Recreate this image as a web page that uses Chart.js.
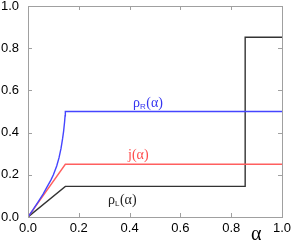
<!DOCTYPE html>
<html>
<head>
<meta charset="utf-8">
<script src="https://cdn.jsdelivr.net/npm/chart.js@4.4.0/dist/chart.umd.min.js"></script>
<style>
  html, body { margin: 0; padding: 0; background: #fff; }
  #wrap { width: 291px; height: 252px; }
</style>
</head>
<body>
<div id="wrap"><canvas id="myChart"></canvas></div>
<script>
// tick values
var xTicks = [0, 0.2, 0.4, 0.6, 0.8, 1.0];
var yTicks = [0, 0.2, 0.4, 0.6, 0.8, 1.0];

// rho_R(alpha), blue
var rhoRx = [0, 0.02, 0.04, 0.06, 0.074, 0.09, 0.1, 0.113, 0.122, 0.13, 0.136, 0.14, 0.144, 0.146, 0.147, 1.0];
var rhoRy = [0, 0.035, 0.072, 0.11, 0.14, 0.175, 0.2, 0.242, 0.28, 0.325, 0.37, 0.405, 0.45, 0.48, 0.5, 0.5];

// j(alpha), red
var jx = [0, 0.147, 1.0];
var jy = [0, 0.25, 0.25];

// rho_L(alpha), black
var rhoLx = [0, 0.147, 0.855, 0.855, 1.0];
var rhoLy = [0, 0.145, 0.145, 0.852, 0.852];

function pts(xs, ys) {
    return xs.map(function (x, i) { return {x: x, y: ys[i]}; });
}

// frame, inward ticks on all four sides + curve labels
var decor = {
    id: 'decor',
    afterDraw: function (chart) {
        var ctx = chart.ctx;
        var a = chart.chartArea;
        var sx = chart.scales.x, sy = chart.scales.y;
        ctx.save();
        ctx.strokeStyle = '#a0a0a0';
        ctx.lineWidth = 1;
        ctx.strokeRect(Math.round(a.left) + 0.5, Math.round(a.top) + 0.5,
            Math.round(a.right - a.left), Math.round(a.bottom - a.top));
        ctx.beginPath();
        xTicks.forEach(function (v) {
            var px = Math.round(sx.getPixelForValue(v)) + 0.5;
            ctx.moveTo(px, a.bottom); ctx.lineTo(px, a.bottom - 4);
            ctx.moveTo(px, a.top); ctx.lineTo(px, a.top + 4);
        });
        yTicks.forEach(function (v) {
            var py = Math.round(sy.getPixelForValue(v)) + 0.5;
            ctx.moveTo(a.left, py); ctx.lineTo(a.left + 4, py);
            ctx.moveTo(a.right, py); ctx.lineTo(a.right - 4, py);
        });
        ctx.stroke();

        // labels
        ctx.textBaseline = 'alphabetic';
        function label(x, y, main, sub, color) {
            ctx.fillStyle = color;
            ctx.font = '14px "Liberation Serif"';
            ctx.fillText(main, x, y);
            var w = ctx.measureText(main).width;
            ctx.font = '8px "Liberation Sans"';
            ctx.fillText(sub, x + w, y + 2);
            var w2 = ctx.measureText(sub).width;
            ctx.font = '14px "Liberation Serif"';
            ctx.fillText('(\u03b1)', x + w + w2 + 0.5, y);
        }
        label(133, 107, '\u03c1', 'R', '#3535f0');
        ctx.fillStyle = '#ff4d4d';
        ctx.font = '14px "Liberation Serif"';
        ctx.fillText('j(\u03b1)', 128, 159);
        label(108, 204, '\u03c1', 'L', '#222');

        ctx.fillStyle = '#000';
        ctx.font = '20px "Liberation Serif"';
        ctx.fillText('\u03b1', 251, 240);
        ctx.restore();
    }
};

var ctx = document.getElementById('myChart').getContext('2d');
var chart = new Chart(ctx, {
    type: 'scatter',
    data: {
        datasets: [
            {data: pts(rhoRx, rhoRy), showLine: true, borderColor: '#4545ff', borderWidth: 1.4, pointRadius: 0, tension: 0},
            {data: pts(jx, jy), showLine: true, borderColor: '#ff5f5f', borderWidth: 1.4, pointRadius: 0},
            {data: pts(rhoLx, rhoLy), showLine: true, borderColor: '#333', borderWidth: 1.4, pointRadius: 0}
        ]
    },
    plugins: [decor],
    options: {
        responsive: true,
        maintainAspectRatio: false,
        animation: false,
        layout: {padding: {top: 6, right: 9, left: 0, bottom: 0}},
        plugins: {legend: {display: false}, tooltip: {enabled: false}},
        scales: {
            x: {
                type: 'linear', min: 0, max: 1,
                afterBuildTicks: function (s) { s.ticks = xTicks.map(function (v) { return {value: v}; }); },
                afterFit: function (s) { s.height = 35; s.paddingLeft = 0; s.paddingRight = 0; },
                grid: {display: false, drawTicks: false, tickLength: 0},
                border: {display: false},
                ticks: {
                    color: '#000', padding: 4, maxRotation: 0,
                    font: {family: 'Liberation Sans', size: 13},
                    callback: function (v) { return v.toFixed(1); }
                }
            },
            y: {
                type: 'linear', min: 0, max: 1,
                afterBuildTicks: function (s) { s.ticks = yTicks.map(function (v) { return {value: v}; }); },
                afterFit: function (s) { s.width = 28; s.paddingTop = 0; s.paddingBottom = 0; },
                grid: {display: false, drawTicks: false, tickLength: 0},
                border: {display: false},
                ticks: {
                    color: '#000', padding: 9,
                    font: {family: 'Liberation Sans', size: 13},
                    callback: function (v) { return v.toFixed(1); }
                }
            }
        }
    }
});
</script>
</body>
</html>
